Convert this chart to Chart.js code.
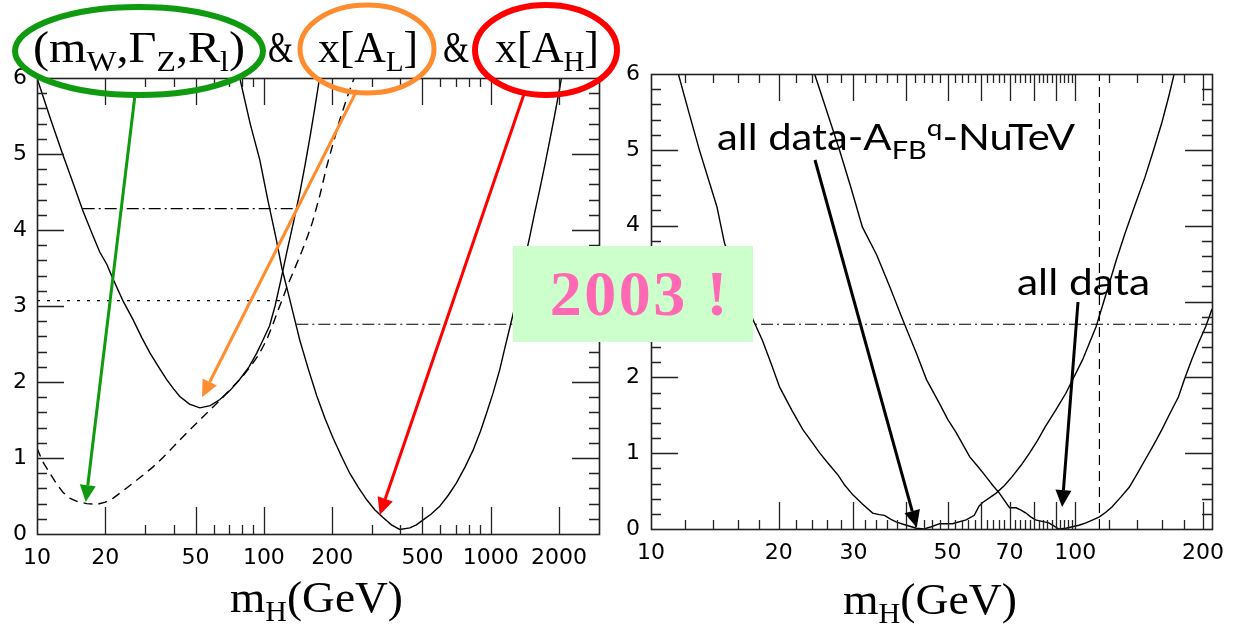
<!DOCTYPE html>
<html>
<head>
<meta charset="utf-8">
<script src="https://cdn.jsdelivr.net/npm/chart.js@4/dist/chart.umd.min.js"></script>
<style>
  html, body { margin: 0; padding: 0; background: #fff; }
  body { width: 1242px; height: 625px; position: relative; overflow: hidden; }
  canvas { position: absolute; top: 0; }
  #leftPlot { left: 0; }
  #rightPlot { left: 610px; }
  #stamp {
    position: absolute; left: 513px; top: 246px; width: 240px; height: 96px;
    background: #ccffcc; color: #ff69b4;
    font: bold 64px "Liberation Serif", serif; letter-spacing: 2.5px;
    display: flex; align-items: center; justify-content: center;
    padding-left: 14px; box-sizing: border-box;
  }
</style>
</head>
<body>
<canvas id="leftPlot" width="640" height="625"></canvas>
<canvas id="rightPlot" width="632" height="625"></canvas>
<div id="stamp">2003 !</div>
<script>
// ---- axis ticks ----
const leftMassTicks  = [10, 20, 50, 100, 200, 500, 1000, 2000];
const leftMajorMarks = [20, 50, 100, 200, 500, 1000, 2000];
const leftMinorMarks = [30, 40, 60, 70, 80, 90, 300, 400, 600, 700, 800, 900];
const rightMassTicks  = [10, 20, 30, 50, 70, 100, 200];
const rightMajorMarks = [20, 30, 40, 50, 60, 70, 80, 90, 100, 200];
const rightMinorMarks = [12, 14, 16, 18, 22, 24, 26, 28, 32, 34, 36, 38, 42, 44, 46, 48,
                         52, 54, 56, 58, 62, 64, 66, 68, 72, 74, 76, 78, 82, 84, 86, 88,
                         92, 94, 96, 98, 120, 140, 160, 180];
const chi2Ticks = [0, 1, 2, 3, 4, 5, 6];

// ---- left panel: Δχ² vs m_H for three observable sets ----
// (m_W, Γ_Z, R_l)
const ewObservablesCurve = [
  [10, 1.13], [10.6, 0.95], [11.4, 0.80], [12.2, 0.66], [13.0, 0.55], [14, 0.47], [15, 0.43],
  [16.6, 0.40], [18.4, 0.39], [20, 0.42], [21.6, 0.47], [24, 0.57], [26.5, 0.67], [29.5, 0.78],
  [32.4, 0.88], [36, 1.01], [39.7, 1.14], [45, 1.31], [50.6, 1.46], [57.8, 1.63], [65, 1.78],
  [72, 1.92], [80, 2.06], [88, 2.22], [95, 2.36], [103, 2.56], [109, 2.74], [115, 2.93],
  [120, 3.07], [127, 3.27], [134, 3.43], [147, 3.72], [156, 3.92], [164, 4.11], [177, 4.47],
  [189, 4.83], [202, 5.14], [216, 5.45], [233, 5.75], [250, 6.0]
];
// x[A_L]
const leptonAsymCurve = [
  [10, 6.0], [11.5, 5.45], [13.0, 4.99], [14.5, 4.6], [15.9, 4.26], [17.5, 3.95], [18.9, 3.71],
  [20.3, 3.55], [21.6, 3.36], [24, 3.06], [26.5, 2.82], [29, 2.58], [31.5, 2.38], [34.5, 2.19],
  [37.3, 2.03], [40, 1.91], [42.6, 1.81], [47, 1.71], [52.2, 1.66], [58, 1.69], [64, 1.77],
  [71, 1.89], [78, 2.03], [86, 2.2], [93, 2.38], [99, 2.55], [106, 2.74], [112, 3.0],
  [118, 3.30], [126, 3.70], [135, 4.1], [144, 4.49], [152, 4.86], [160, 5.24], [168, 5.62], [176, 6.0]
];
// x[A_H]
const hadronAsymCurve = [
  [78.3, 6.0], [87, 5.4], [96, 4.92], [104, 4.4], [113, 3.9], [120, 3.5], [128, 3.17], [136, 2.85],
  [144, 2.55], [157, 2.17], [171, 1.82], [186, 1.52], [202, 1.26], [220, 1.02], [239, 0.80],
  [260, 0.62], [284, 0.45], [308, 0.32], [334, 0.22], [365, 0.12], [397, 0.06], [440, 0.08],
  [470, 0.12], [500, 0.18], [545, 0.26], [594, 0.36], [650, 0.51], [705, 0.67], [770, 0.88],
  [835, 1.10], [900, 1.35], [958, 1.59], [1025, 1.86], [1095, 2.16], [1150, 2.43], [1212, 2.71],
  [1280, 3.0], [1342, 3.30], [1410, 3.6], [1485, 3.91], [1560, 4.22], [1644, 4.53], [1730, 4.85],
  [1820, 5.18], [1910, 5.5], [2014, 5.87], [2050, 6.0]
];
// reference levels
const leptonAsymLevel   = [[15.9, 4.28], [138, 4.28]];
const ewObservablesLevel = [[10, 3.07], [119, 3.07]];
const hadronAsymLevel   = [[139, 2.76], [3000, 2.76]];

// ---- right panel ----
const fitWithoutAfbNutevCurve = [
  [11.6, 6.0], [12.3, 5.48], [13.0, 5.0], [14.3, 4.25], [14.9, 3.77], [16.0, 3.3], [17.4, 2.76],
  [18.3, 2.49], [19.2, 2.18], [20.1, 1.87], [21.5, 1.56], [22.8, 1.31], [24, 1.14], [25.0, 1.0],
  [26.2, 0.86], [27.6, 0.71], [28.6, 0.58], [29.9, 0.45], [31.5, 0.33], [33.3, 0.21], [34.5, 0.19],
  [35.5, 0.18], [36.7, 0.13], [37.9, 0.09], [40, 0.05], [42.2, 0.01], [44, 0.0], [45.8, 0.03],
  [47.9, 0.07], [51.3, 0.07], [55.3, 0.12], [57.8, 0.18], [59.3, 0.30], [60.5, 0.35], [65, 0.47],
  [68, 0.57], [71, 0.69], [74.5, 0.84], [78, 1.0], [81.5, 1.17], [85, 1.35], [90, 1.57], [95, 1.79],
  [104, 2.23], [112, 2.67], [120, 3.22], [125, 3.55], [131, 3.9], [138, 4.26], [146, 4.64],
  [153, 5.0], [160, 5.36], [166, 5.7], [171, 6.0]
];
const allDataCurve = [
  [24.3, 6.0], [26, 5.5], [27.8, 5.0], [29.6, 4.5], [31.5, 3.98], [34.0, 3.62], [36.5, 3.2],
  [39.2, 2.76], [42.2, 2.32], [44.6, 1.97], [47.8, 1.66], [50, 1.45], [52.4, 1.27], [56.4, 0.95],
  [59, 0.82], [61.6, 0.69], [64, 0.57], [66.3, 0.47], [68, 0.38], [70.0, 0.28], [72.5, 0.28],
  [74.5, 0.25], [76.5, 0.21], [78.5, 0.16], [80.6, 0.12], [83.5, 0.1], [86.6, 0.08], [89, 0.04],
  [91.5, 0.0], [95, 0.01], [98.4, 0.03], [102, 0.05], [106, 0.08], [110, 0.12], [114, 0.16],
  [118, 0.22], [122, 0.29], [128, 0.42], [134, 0.55], [140, 0.73], [146, 0.91], [153, 1.11],
  [160, 1.31], [167, 1.52], [175, 1.74], [181, 1.98], [188, 2.23], [195, 2.45], [203, 2.67], [210, 2.9]
];
const allDataLevel = [[10, 2.70], [210, 2.70]];
const lepBoundLine = [[114, 0], [114, 6]];

// ---- helpers ----
const pts = arr => arr.map(([x, y]) => ({ x, y }));

function curve(arr, dash, width) {
  return {
    data: pts(arr), borderColor: '#000', borderWidth: width || 1.4,
    borderDash: dash || [], pointRadius: 0, tension: 0, fill: false
  };
}

function drawRich(ctx, x, base, parts, width, color) {
  let w = 0;
  parts.forEach(p => { ctx.font = p.font; p.w = ctx.measureText(p.t).width; w += p.w; });
  const k = width ? width / w : 1;
  ctx.save();
  ctx.translate(x, base); ctx.scale(k, 1);
  ctx.fillStyle = color || '#000';
  ctx.textBaseline = 'alphabetic'; ctx.textAlign = 'left';
  let cx = 0;
  parts.forEach(p => { ctx.font = p.font; ctx.fillText(p.t, cx, p.dy || 0); cx += p.w; });
  ctx.restore();
}

function arrow(ctx, x0, y0, x1, y1, color, lw, head, half) {
  const a = Math.atan2(y1 - y0, x1 - x0);
  const bx = x1 - head * Math.cos(a), by = y1 - head * Math.sin(a);
  ctx.save();
  ctx.strokeStyle = color; ctx.fillStyle = color; ctx.lineWidth = lw; ctx.lineCap = 'butt';
  ctx.beginPath(); ctx.moveTo(x0, y0); ctx.lineTo(bx, by); ctx.stroke();
  ctx.beginPath();
  ctx.moveTo(x1, y1);
  ctx.lineTo(bx + half * Math.sin(a), by - half * Math.cos(a));
  ctx.lineTo(bx - half * Math.sin(a), by + half * Math.cos(a));
  ctx.closePath(); ctx.fill();
  ctx.restore();
}

function ellipse(ctx, cx, cy, rx, ry, color, lw) {
  ctx.save();
  ctx.strokeStyle = color; ctx.lineWidth = lw;
  ctx.beginPath(); ctx.ellipse(cx, cy, rx, ry, 0, 0, Math.PI * 2); ctx.stroke();
  ctx.restore();
}

// inward tick marks on all four sides plus the frame
function frameTicks(xMajor, xMinor, yMajorLen, yMinorLen) {
  return {
    id: 'frameTicks',
    afterDatasetsDraw(chart) {
      const { ctx, chartArea: a, scales: { x, y } } = chart;
      ctx.save();
      ctx.strokeStyle = '#222'; ctx.lineWidth = 1.3;
      ctx.beginPath();
      const vx = (v, len) => {
        const p = Math.round(x.getPixelForValue(v)) + 0.5;
        ctx.moveTo(p, a.bottom); ctx.lineTo(p, a.bottom - len);
        ctx.moveTo(p, a.top); ctx.lineTo(p, a.top + len);
      };
      const vy = (v, len) => {
        const p = Math.round(y.getPixelForValue(v)) + 0.5;
        ctx.moveTo(a.left, p); ctx.lineTo(a.left + len, p);
        ctx.moveTo(a.right, p); ctx.lineTo(a.right - len, p);
      };
      xMajor.forEach(v => vx(v, 27));
      xMinor.forEach(v => vx(v, 9));
      for (let i = 1; i < 30; i++) vy(i / 5, i % 5 === 0 ? yMajorLen : yMinorLen);
      ctx.stroke();
      ctx.lineWidth = 1.6;
      ctx.strokeRect(a.left + 0.5, a.top + 0.5, a.right - a.left, a.bottom - a.top);
      ctx.restore();
    }
  };
}

function scalesFor(min, max, labels, yWidth, xHeight, yPad) {
  return {
    x: {
      type: 'logarithmic', min, max,
      afterBuildTicks: s => { s.ticks = labels.map(v => ({ value: v })); },
      afterFit: s => { s.height = xHeight; },
      ticks: { callback: v => String(v), autoSkip: false, maxRotation: 0, padding: 11,
               color: '#000', font: { family: 'DejaVu Sans', size: 22 } },
      grid: { display: false, drawTicks: false }, border: { display: false }
    },
    y: {
      type: 'linear', min: 0, max: 6,
      afterBuildTicks: s => { s.ticks = chi2Ticks.map(v => ({ value: v })); },
      afterFit: s => { s.width = yWidth; },
      ticks: { padding: yPad, color: '#000', font: { family: 'DejaVu Sans', size: 22 } },
      grid: { display: false, drawTicks: false }, border: { display: false }
    }
  };
}

const serif = s => s + 'px "Liberation Serif", serif';
const massTitle = [
  { t: 'm', font: serif(44) }, { t: 'H', font: serif(29), dy: 9 }, { t: '(GeV)', font: serif(44) }
];

// ---- left chart ----
const leftNotes = {
  id: 'leftNotes',
  afterDraw(chart) {
    const { ctx, scales: { x, y } } = chart;
    // header
    drawRich(ctx, 33, 62, [
      { t: '(m', font: serif(44) }, { t: 'W', font: serif(29), dy: 9 },
      { t: ',Γ', font: serif(44) }, { t: 'Z', font: serif(29), dy: 9 },
      { t: ',R', font: serif(44) }, { t: 'l', font: serif(29), dy: 9 },
      { t: ')', font: serif(44) }
    ], 212);
    drawRich(ctx, 268, 62, [{ t: '&', font: serif(44) }], 25);
    drawRich(ctx, 318, 62, [
      { t: 'x[A', font: serif(44) }, { t: 'L', font: serif(29), dy: 9 }, { t: ']', font: serif(44) }
    ], 100);
    drawRich(ctx, 443, 62, [{ t: '&', font: serif(44) }], 26);
    drawRich(ctx, 495, 62, [
      { t: 'x[A', font: serif(44) }, { t: 'H', font: serif(29), dy: 9 }, { t: ']', font: serif(44) }
    ], 104);
    // axis title
    drawRich(ctx, 230, 612, massTitle, 173);
    // highlighted groups
    ellipse(ctx, 139, 51, 124, 44, '#109a10', 6);
    ellipse(ctx, 367, 49, 67, 44, '#ff8c2e', 5);
    ellipse(ctx, 546, 50, 71, 45, '#ff0000', 6);
    // pointers to each minimum
    arrow(ctx, 135, 95, x.getPixelForValue(16.4), y.getPixelForValue(0.42), '#109a10', 3, 17, 8);
    arrow(ctx, 357, 90, x.getPixelForValue(53.4), y.getPixelForValue(1.80), '#ff8c2e', 3, 17, 8);
    arrow(ctx, 524, 94, x.getPixelForValue(324), y.getPixelForValue(0.25), '#ff0000', 3, 17, 8);
  }
};

new Chart(document.getElementById('leftPlot'), {
  type: 'line',
  data: {
    datasets: [
      curve(ewObservablesCurve, [9, 6]),
      curve(leptonAsymCurve),
      curve(hadronAsymCurve),
      curve(leptonAsymLevel, [12, 4, 2, 4], 1.2),
      curve(ewObservablesLevel, [3, 7], 1.2),
      curve(hadronAsymLevel, [12, 4, 2, 4], 1.2)
    ]
  },
  options: {
    responsive: false, animation: false, devicePixelRatio: 1,
    layout: { padding: { top: 78, right: 41, left: 0, bottom: 0 } },
    plugins: { legend: { display: false }, tooltip: { enabled: false } },
    scales: scalesFor(10, 3000, leftMassTicks, 37, 91, 10)
  },
  plugins: [frameTicks(leftMajorMarks, leftMinorMarks, 27, 10), leftNotes]
});

// ---- right chart ----
const sans = s => s + 'px Lato, "Open Sans", sans-serif';
const rightNotes = {
  id: 'rightNotes',
  afterDraw(chart) {
    const { ctx, scales: { x, y } } = chart;
    drawRich(ctx, 233, 614, massTitle, 174);
    drawRich(ctx, 107, 150, [
      { t: 'all data-A', font: sans(36) }, { t: 'FB', font: sans(25), dy: 9 },
      { t: 'q', font: sans(24), dy: -14 }, { t: '-NuTeV', font: sans(36) }
    ], 358);
    drawRich(ctx, 407, 295, [{ t: 'all data', font: sans(36) }], 133);
    arrow(ctx, 205, 160, x.getPixelForValue(42.3), y.getPixelForValue(0.02), '#000', 3, 17, 8);
    arrow(ctx, 468, 302, x.getPixelForValue(93.1), y.getPixelForValue(0.29), '#000', 3, 17, 8);
  }
};

new Chart(document.getElementById('rightPlot'), {
  type: 'line',
  data: {
    datasets: [
      curve(fitWithoutAfbNutevCurve),
      curve(allDataCurve),
      curve(allDataLevel, [12, 4, 2, 4], 1.2),
      curve(lepBoundLine, [10, 6], 1.2)
    ]
  },
  options: {
    responsive: false, animation: false, devicePixelRatio: 1,
    layout: { padding: { top: 74, right: 30, left: 0, bottom: 0 } },
    plugins: { legend: { display: false }, tooltip: { enabled: false } },
    scales: scalesFor(10, 210, rightMassTicks, 41, 96, 11)
  },
  plugins: [frameTicks(rightMajorMarks, rightMinorMarks, 27, 10), rightNotes]
});
</script>
</body>
</html>
